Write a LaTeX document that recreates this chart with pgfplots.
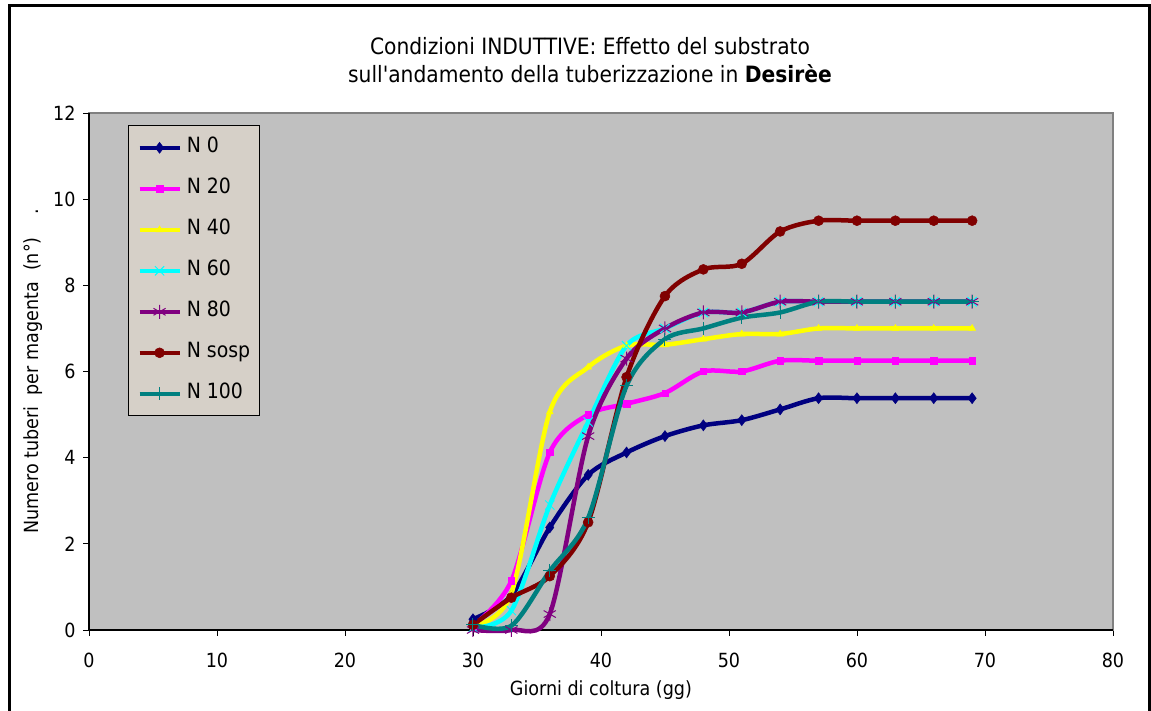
\documentclass[border=0pt]{standalone}
\usepackage{fontspec}
\setmainfont{DejaVu Sans Condensed}
\usepackage{pgfplots}
\pgfplotsset{compat=1.18}
\definecolor{plotgray}{RGB}{192,192,192}
\definecolor{legfill}{RGB}{214,208,200}
\definecolor{bordergray}{RGB}{128,128,128}
\definecolor{cnavy}{RGB}{0,0,128}
\definecolor{cmag}{RGB}{255,0,255}
\definecolor{cyel}{RGB}{255,255,0}
\definecolor{ccyan}{RGB}{0,255,255}
\definecolor{cpurple}{RGB}{128,0,128}
\definecolor{cmaroon}{RGB}{128,0,0}
\definecolor{cteal}{RGB}{0,128,128}
\begin{document}
\begin{tikzpicture}[x=1pt,y=1pt]
\path[use as bounding box] (0,0) rectangle (1151,711);
\draw[line width=3pt] (9,0) -- (9,705) -- (1149,705) -- (1149,0);
\node[font=\fontsize{22.5}{28}\selectfont, align=center] at (590,651)
  {Condizioni INDUTTIVE: Effetto del substrato\\sull\textquotesingle andamento della tuberizzazione in \textbf{Desirèe}};
\begin{axis}[
  at={(89pt,81pt)}, anchor=south west,
  scale only axis, width=1024pt, height=517pt,
  xmin=0, xmax=80, ymin=0, ymax=12,
  xtick={0,10,...,80}, ytick={0,2,...,12},
  tick align=outside, xtick pos=bottom, ytick pos=left,
  major tick length=6pt,
  tick style={black, line width=0.8pt},
  axis background/.style={fill=plotgray},
  axis line style={draw=bordergray, line width=1.5pt},
  ticklabel style={font=\fontsize{19.5}{22}\selectfont},
  xticklabel style={yshift=-13pt},
  yticklabel style={xshift=-4pt},
  /pgf/number format/assume math mode=true,
  clip=false,
  every axis x label/.style={at={(axis description cs:0.5,0)}, anchor=center, yshift=-60pt},
  every axis y label/.style={at={(axis description cs:0,0.5)}, rotate=90, anchor=center, yshift=56pt},
  label style={font=\fontsize{19.5}{22}\selectfont},
  xlabel={Giorni di coltura (gg)},
  ylabel={Numero tuberi\ \ per magenta\ \ (n°)\ \ \ \ .},
  legend style={at={(0.038,0.976)}, anchor=north west, draw=black, line width=0.8pt, fill=legfill,
    font=\fontsize{21}{24}\selectfont, inner xsep=9pt, inner ysep=12pt,
    row sep=21pt, column sep=5pt,
    nodes={inner sep=0pt, text height=15pt, text depth=5pt}},
  legend cell align=left,
  legend image code/.code={\draw[mark repeat=2, mark phase=2, #1] plot coordinates {(0pt,0pt) (20pt,0pt) (40pt,0pt)};},
  every axis plot/.append style={line width=4.5pt, smooth},
]
\draw[black, line width=1.2pt] (rel axis cs:0,1) -- (rel axis cs:0,0) -- (rel axis cs:1,0);
\addplot[cnavy, mark=diamond*, mark size=5.5pt, mark options={solid, line width=0.5pt}] coordinates {
(30,0.25) (33,0.8) (36,2.38) (39,3.6) (42,4.12) (45,4.5) (48,4.75) (51,4.87) (54,5.12) (57,5.38) (60,5.38) (63,5.38) (66,5.38) (69,5.38)};
\addlegendentry{N 0}
\addplot[cmag, mark=square*, mark size=3.2pt, mark options={solid, line width=0.5pt}] coordinates {
(30,0.1) (33,1.14) (36,4.12) (39,5.0) (42,5.25) (45,5.5) (48,6.0) (51,6.0) (54,6.25) (57,6.25) (60,6.25) (63,6.25) (66,6.25) (69,6.25)};
\addlegendentry{N 20}
\addplot[cyel, mark=triangle*, mark size=4pt, mark options={solid, line width=0.5pt}] coordinates {
(30,0.1) (33,0.85) (36,5.06) (39,6.1) (42,6.6) (45,6.62) (48,6.75) (51,6.87) (54,6.87) (57,7.0) (60,7.0) (63,7.0) (66,7.0) (69,7.0)};
\addlegendentry{N 40}
\addplot[ccyan, mark=x, mark size=6.5pt, mark options={solid, line width=1pt}] coordinates {
(30,0.05) (33,0.45) (36,2.9) (39,4.83) (42,6.6) (45,7.0) (48,7.37) (51,7.37) (54,7.62) (57,7.62) (60,7.62) (63,7.62) (66,7.62) (69,7.62)};
\addlegendentry{N 60}
\addplot[cpurple, mark=asterisk, mark size=7pt, mark options={solid, line width=1pt}] coordinates {
(30,0) (33,0) (36,0.37) (39,4.5) (42,6.3) (45,7.0) (48,7.37) (51,7.37) (54,7.62) (57,7.62) (60,7.62) (63,7.62) (66,7.62) (69,7.62)};
\addlegendentry{N 80}
\addplot[cmaroon, mark=*, mark size=5pt, mark options={solid, line width=0.5pt}] coordinates {
(30,0.12) (33,0.75) (36,1.25) (39,2.5) (42,5.87) (45,7.75) (48,8.37) (51,8.5) (54,9.25) (57,9.5) (60,9.5) (63,9.5) (66,9.5) (69,9.5)};
\addlegendentry{N sosp}
\addplot[cteal, mark=+, mark size=6.5pt, mark options={solid, line width=1pt}] coordinates {
(30,0.12) (33,0.1) (36,1.37) (39,2.6) (42,5.67) (45,6.75) (48,7.0) (51,7.25) (54,7.37) (57,7.62) (60,7.62) (63,7.62) (66,7.62) (69,7.62)};
\addlegendentry{N 100}
\end{axis}
\end{tikzpicture}
\end{document}
